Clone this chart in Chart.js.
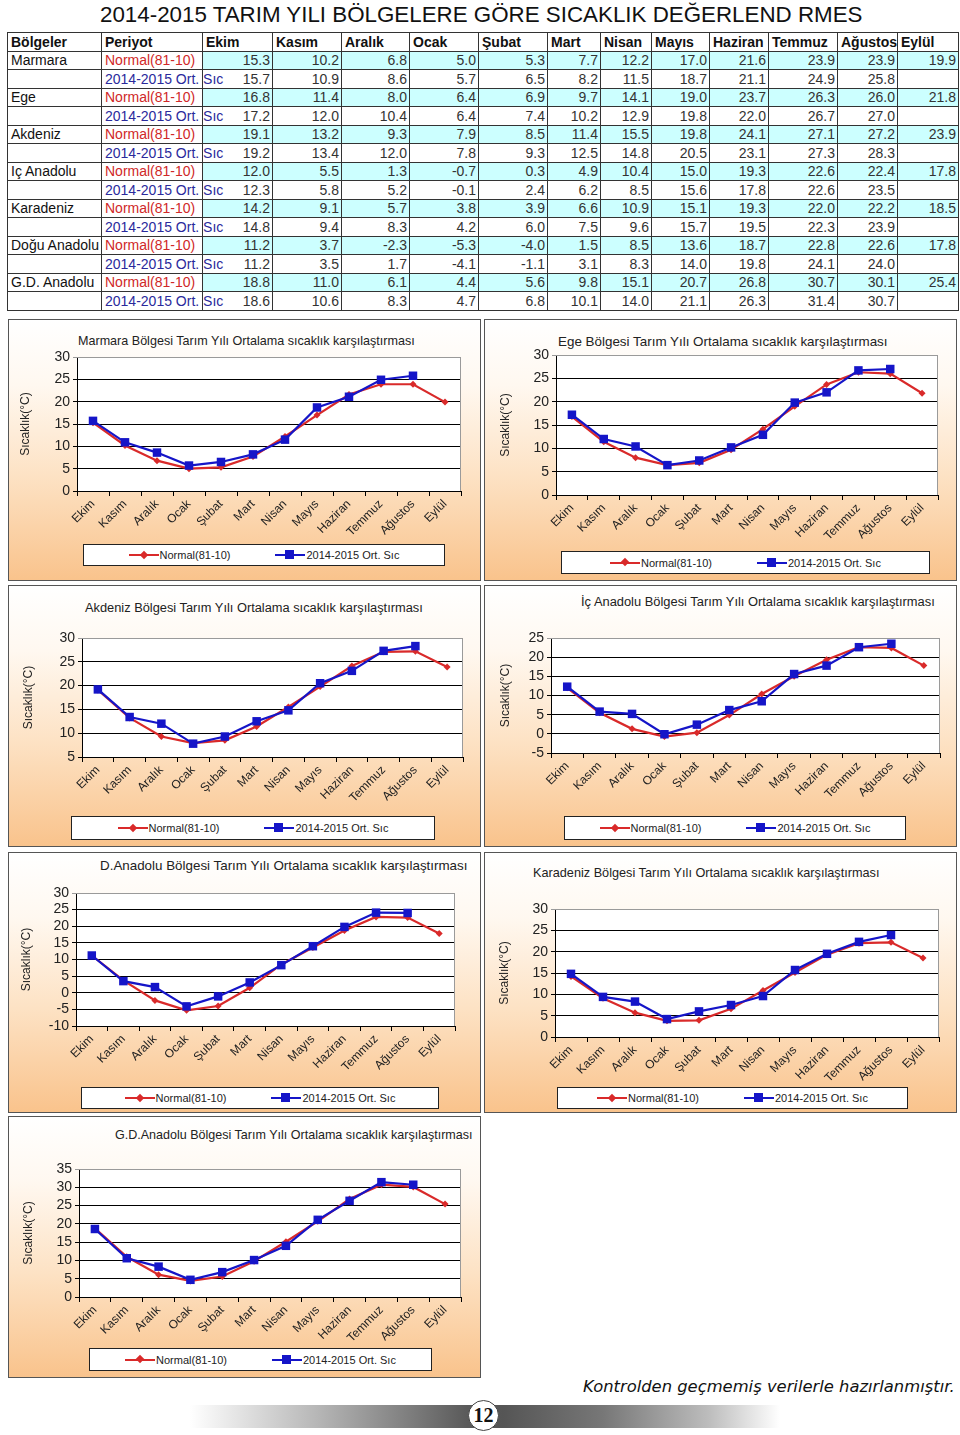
<!DOCTYPE html>
<html><head><meta charset="utf-8">
<script src="https://cdn.jsdelivr.net/npm/chart.js@4.4.1/dist/chart.umd.min.js"></script>
<style>
html,body{margin:0;padding:0;background:#fff;}
body{width:960px;height:1435px;position:relative;overflow:hidden;font-family:"Liberation Sans",Arial,sans-serif;}
#mainTitle{position:absolute;left:100px;top:3px;font-size:21px;line-height:24px;white-space:nowrap;color:#111;}
#tbl{position:absolute;left:7px;top:32px;width:951px;border-collapse:collapse;table-layout:fixed;font-size:14px;}
#tbl td,#tbl th{border:1px solid #333;padding:0 2px 0 3px;white-space:nowrap;line-height:16px;overflow:visible;}
#tbl tr{height:18.5px;}
#tbl th{text-align:left;font-weight:bold;color:#111;}
#tbl td.n{text-align:right;color:#333;}
#tbl tr.norm td.n{background:#ccffff;}
#tbl td.reg{color:#111;}
.per-n{color:#d02828;}
.per-o{color:#2a2a9c;}
.panel{position:absolute;box-sizing:border-box;border:1px solid #555;
  background:linear-gradient(to bottom,#ffffff 0%,#fff8f0 25%,#fde2c4 60%,#f9c38c 100%);}
.cwrap{position:absolute;}
.ctitle{position:absolute;white-space:nowrap;font-size:12.5px;line-height:14px;color:#222;}
.legend{position:absolute;box-sizing:border-box;background:#fff;border:1px solid #222;display:flex;align-items:center;justify-content:center;font-size:11px;color:#222;gap:45px;}
.li{display:flex;align-items:center;white-space:nowrap;}
.ln{display:inline-block;width:30px;height:2px;position:relative;margin-right:1px;}
.ln.r{background:#d92a2a;}
.ln.b{background:#1515c8;}
.dia{position:absolute;left:12px;top:-2.5px;width:6px;height:6px;background:#d92a2a;transform:rotate(45deg);}
.sq{position:absolute;left:10px;top:-4px;width:9px;height:9px;background:#1515c8;}
#footer{position:absolute;left:583px;top:1377px;font-style:italic;font-size:18px;line-height:20px;white-space:nowrap;color:#111;font-family:"DejaVu Sans","Liberation Sans",sans-serif;}
#bar{position:absolute;left:190px;top:1405px;width:590px;height:23px;
  background:linear-gradient(to right,#ffffff 0%,#b5b5b5 22%,#5a5a5a 47%,#555 53%,#777 70%,#bdbdbd 88%,#ffffff 100%);}
#pnum{position:absolute;left:468px;top:1400px;width:31px;height:31px;border-radius:50%;background:#fff;border:1px solid #444;box-sizing:border-box;
  font-family:"Liberation Serif",serif;font-weight:bold;font-size:20px;line-height:29px;text-align:center;color:#111;}
</style>
</head>
<body>
<div id="mainTitle">2014-2015 TARIM YILI BÖLGELERE GÖRE SICAKLIK DEĞERLEND RMES</div>
<table id="tbl"></table>
<div id="footer">Kontrolden geçmemiş verilerle hazırlanmıştır.</div>
<div id="bar"></div>
<div id="pnum">12</div>
<script>
// ---------- DATA ----------
const months = ['Ekim','Kasım','Aralık','Ocak','Şubat','Mart','Nisan','Mayıs','Haziran','Temmuz','Ağustos','Eylül'];
const tableHeaders = ['Bölgeler','Periyot','Ekim','Kasım','Aralık','Ocak','Şubat','Mart','Nisan','Mayıs','Haziran','Temmuz','Ağustos','Eylül'];
const periodNormal = 'Normal(81-10)';
const periodOrt = '2014-2015 Ort. Sıc';
const yAxisTitle = 'Sıcaklık(°C)';

const marmaraNormal = [15.3,10.2,6.8,5.0,5.3,7.7,12.2,17.0,21.6,23.9,23.9,19.9];
const marmaraOrt    = [15.7,10.9,8.6,5.7,6.5,8.2,11.5,18.7,21.1,24.9,25.8,null];
const egeNormal     = [16.8,11.4,8.0,6.4,6.9,9.7,14.1,19.0,23.7,26.3,26.0,21.8];
const egeOrt        = [17.2,12.0,10.4,6.4,7.4,10.2,12.9,19.8,22.0,26.7,27.0,null];
const akdenizNormal = [19.1,13.2,9.3,7.9,8.5,11.4,15.5,19.8,24.1,27.1,27.2,23.9];
const akdenizOrt    = [19.2,13.4,12.0,7.8,9.3,12.5,14.8,20.5,23.1,27.3,28.3,null];
const icAnadoluNormal = [12.0,5.5,1.3,-0.7,0.3,4.9,10.4,15.0,19.3,22.6,22.4,17.8];
const icAnadoluOrt    = [12.3,5.8,5.2,-0.1,2.4,6.2,8.5,15.6,17.8,22.6,23.5,null];
const karadenizNormal = [14.2,9.1,5.7,3.8,3.9,6.6,10.9,15.1,19.3,22.0,22.2,18.5];
const karadenizOrt    = [14.8,9.4,8.3,4.2,6.0,7.5,9.6,15.7,19.5,22.3,23.9,null];
const doguAnadoluNormal = [11.2,3.7,-2.3,-5.3,-4.0,1.5,8.5,13.6,18.7,22.8,22.6,17.8];
const doguAnadoluOrt    = [11.2,3.5,1.7,-4.1,-1.1,3.1,8.3,14.0,19.8,24.1,24.0,null];
const gdAnadoluNormal = [18.8,11.0,6.1,4.4,5.6,9.8,15.1,20.7,26.8,30.7,30.1,25.4];
const gdAnadoluOrt    = [18.6,10.6,8.3,4.7,6.8,10.1,14.0,21.1,26.3,31.4,30.7,null];

const tableRegions = ['Marmara','Ege','Akdeniz','Iç Anadolu','Karadeniz','Doğu Anadolu','G.D. Anadolu'];
const tableNormals = [marmaraNormal,egeNormal,akdenizNormal,icAnadoluNormal,karadenizNormal,doguAnadoluNormal,gdAnadoluNormal];
const tableOrts    = [marmaraOrt,egeOrt,akdenizOrt,icAnadoluOrt,karadenizOrt,doguAnadoluOrt,gdAnadoluOrt];

const chartTitles = ['Marmara  Bölgesi Tarım Yılı  Ortalama sıcaklık karşılaştırması',
  'Ege  Bölgesi Tarım Yılı  Ortalama sıcaklık karşılaştırması',
  'Akdeniz  Bölgesi Tarım Yılı  Ortalama sıcaklık karşılaştırması',
  'İç Anadolu  Bölgesi Tarım Yılı  Ortalama sıcaklık karşılaştırması',
  'D.Anadolu  Bölgesi Tarım Yılı  Ortalama sıcaklık karşılaştırması',
  'Karadeniz  Bölgesi Tarım Yılı  Ortalama sıcaklık karşılaştırması',
  'G.D.Anadolu  Bölgesi Tarım Yılı  Ortalama sıcaklık karşılaştırması'];
const chartNormals = [marmaraNormal,egeNormal,akdenizNormal,icAnadoluNormal,doguAnadoluNormal,karadenizNormal,gdAnadoluNormal];
const chartOrts    = [marmaraOrt,egeOrt,akdenizOrt,icAnadoluOrt,doguAnadoluOrt,karadenizOrt,gdAnadoluOrt];
const yMins = [0,0,5,-5,-10,0,0];
const yMaxs = [30,30,30,25,30,30,35];

// ---------- LAYOUT (page pixel positions) ----------
const layouts = [
  {panel:[8,319,481,581],  plot:[77,357,461,491],   leg:[83,544,445,566],   title:[78,341,337],  yt:18},
  {panel:[484,319,957,581],plot:[556,355,938,495],  leg:[561,551,930,574],  title:[558,342,330], yt:22},
  {panel:[8,585,481,847],  plot:[82,638,463,757],   leg:[71,816,435,840],   title:[85,608,338],  yt:21},
  {panel:[484,585,957,847],plot:[551,638,940,753],  leg:[564,816,906,840],  title:[581,602,354], yt:22},
  {panel:[8,852,481,1113], plot:[76,893,455,1026],  leg:[81,1087,439,1109], title:[100,866,368], yt:19},
  {panel:[484,852,957,1113],plot:[555,909,939,1037],leg:[557,1087,908,1109],title:[533,873,347], yt:21},
  {panel:[8,1116,481,1378],plot:[79,1169,461,1297], leg:[89,1348,432,1371], title:[115,1135,358], yt:21}
];
const colWidths = [94,101,70,69,68,69,69,53,51,58,59,69,60,61];

// ---------- TABLE ----------
const tbl = document.getElementById('tbl');
const cg = document.createElement('colgroup');
colWidths.forEach(w=>{const c=document.createElement('col');c.style.width=w+'px';cg.appendChild(c);});
tbl.appendChild(cg);
let tr = document.createElement('tr');
tableHeaders.forEach(h=>{const th=document.createElement('th');th.textContent=h;tr.appendChild(th);});
tbl.appendChild(tr);
tableRegions.forEach((reg,i)=>{
  [[periodNormal,tableNormals[i],'per-n','norm'],[periodOrt,tableOrts[i],'per-o','ort']].forEach((row,k)=>{
    const r=document.createElement('tr'); r.className=row[3];
    const c0=document.createElement('td'); c0.className='reg'; c0.textContent=k===0?reg:''; r.appendChild(c0);
    const c1=document.createElement('td'); c1.className=row[2]; c1.textContent=row[0]; r.appendChild(c1);
    row[1].forEach(v=>{const c=document.createElement('td');c.className='n';c.textContent=v===null?'':v.toFixed(1);r.appendChild(c);});
    tbl.appendChild(r);
  });
});

// ---------- CHARTS ----------
const plotFrame = {
  id:'plotFrame',
  beforeDraw(chart){const a=chart.chartArea,c=chart.ctx;c.save();c.fillStyle='#fff';c.fillRect(a.left,a.top,a.right-a.left,a.bottom-a.top);c.restore();},
  afterDraw(chart){const a=chart.chartArea,c=chart.ctx;c.save();c.strokeStyle='#9a9a9a';c.lineWidth=1;c.beginPath();
    c.moveTo(a.left,a.top+0.5);c.lineTo(a.right-0.5,a.top+0.5);c.lineTo(a.right-0.5,a.bottom);c.stroke();c.restore();}
};

layouts.forEach((L,i)=>{
  const [pl,pt,pr,pb]=L.panel;
  const p=document.createElement('div');p.className='panel';
  Object.assign(p.style,{left:pl+'px',top:pt+'px',width:(pr-pl)+'px',height:(pb-pt)+'px'});
  document.body.appendChild(p);
  const t=document.createElement('div');t.className='ctitle fit';t.textContent=chartTitles[i];
  t.dataset.w=L.title[2];
  Object.assign(t.style,{left:L.title[0]+'px',top:(L.title[1]-7)+'px'});
  document.body.appendChild(t);
  const cl=pl+1, ct=pt+1, cr=pr-1, cb=L.leg[1]-3;
  const w=document.createElement('div');w.className='cwrap';
  Object.assign(w.style,{left:cl+'px',top:ct+'px',width:(cr-cl)+'px',height:(cb-ct)+'px'});
  const cv=document.createElement('canvas');w.appendChild(cv);document.body.appendChild(w);
  const lg=document.createElement('div');lg.className='legend';
  Object.assign(lg.style,{left:L.leg[0]+'px',top:L.leg[1]+'px',width:(L.leg[2]-L.leg[0])+'px',height:(L.leg[3]-L.leg[1])+'px'});
  lg.innerHTML='<span class="li"><span class="ln r"><i class="dia"></i></span>'+periodNormal+'</span><span class="li"><span class="ln b"><i class="sq"></i></span>'+periodOrt+'</span>';
  document.body.appendChild(lg);

  const padL = Math.max(0,(pl+L.yt-7.2)-cl);
  const yW = L.plot[0]-cl-padL;
  const padT = L.plot[1]-ct;
  const padR = cr-L.plot[2];
  const xH = cb-L.plot[3];
  const ymax=yMaxs[i];
  new Chart(cv,{
    type:'line',
    data:{labels:months,datasets:[
      {label:periodOrt,data:chartOrts[i],borderColor:'#1515c8',backgroundColor:'#1515c8',pointBackgroundColor:'#1515c8',pointBorderColor:'#1515c8',
        pointStyle:'rect',pointRadius:6,pointBorderWidth:0,borderWidth:2.2,tension:0,order:0},
      {label:periodNormal,data:chartNormals[i],borderColor:'#d92a2a',backgroundColor:'#d92a2a',pointBackgroundColor:'#d92a2a',pointBorderColor:'#d92a2a',
        pointStyle:'rectRot',pointRadius:3.5,pointBorderWidth:0,borderWidth:2.2,tension:0,order:1}
    ]},
    options:{
      responsive:true,maintainAspectRatio:false,animation:false,
      layout:{padding:{left:padL,top:padT,right:padR,bottom:0}},
      plugins:{legend:{display:false},tooltip:{enabled:false},title:{display:false}},
      scales:{
        x:{type:'category',offset:true,
          grid:{offset:true,drawOnChartArea:false,drawTicks:true,tickLength:5,color:'#000',lineWidth:1},
          border:{display:true,color:'#000',width:1},
          ticks:{autoSkip:false,maxRotation:45,minRotation:45,color:'#222',padding:1,font:{family:'"Liberation Sans", Arial, sans-serif',size:12}},
          afterFit:s=>{s.height=xH;}
        },
        y:{min:yMins[i],max:ymax,
          ticks:{stepSize:5,autoSkip:false,color:'#222',padding:3,font:{family:'"Liberation Sans", Arial, sans-serif',size:14}},
          grid:{color:c=>(c.tick&&c.tick.value===ymax)?'#9a9a9a':'#000',lineWidth:1,tickLength:4,drawTicks:true},
          border:{display:true,color:'#000',width:1},
          title:{display:true,text:yAxisTitle,color:'#222',padding:0,font:{family:'"Liberation Sans", Arial, sans-serif',size:12}},
          afterFit:s=>{s.width=yW;}
        }
      }
    },
    plugins:[plotFrame]
  });
});

// ---------- text fitting ----------
function fitAll(){
  document.querySelectorAll('.fit').forEach(el=>{
    const target=+el.dataset.w; const cur=el.getBoundingClientRect().width;
    const fs=parseFloat(getComputedStyle(el).fontSize);
    if(cur>0) el.style.fontSize=(fs*target/cur)+'px';
  });
  const mt=document.getElementById('mainTitle');
  const fs=parseFloat(getComputedStyle(mt).fontSize);
  mt.style.fontSize=(fs*763/mt.getBoundingClientRect().width)+'px';
  const ft=document.getElementById('footer');
  const f2=parseFloat(getComputedStyle(ft).fontSize);
  ft.style.fontSize=(f2*372/ft.getBoundingClientRect().width)+'px';
}
fitAll();
</script>
</body></html>
